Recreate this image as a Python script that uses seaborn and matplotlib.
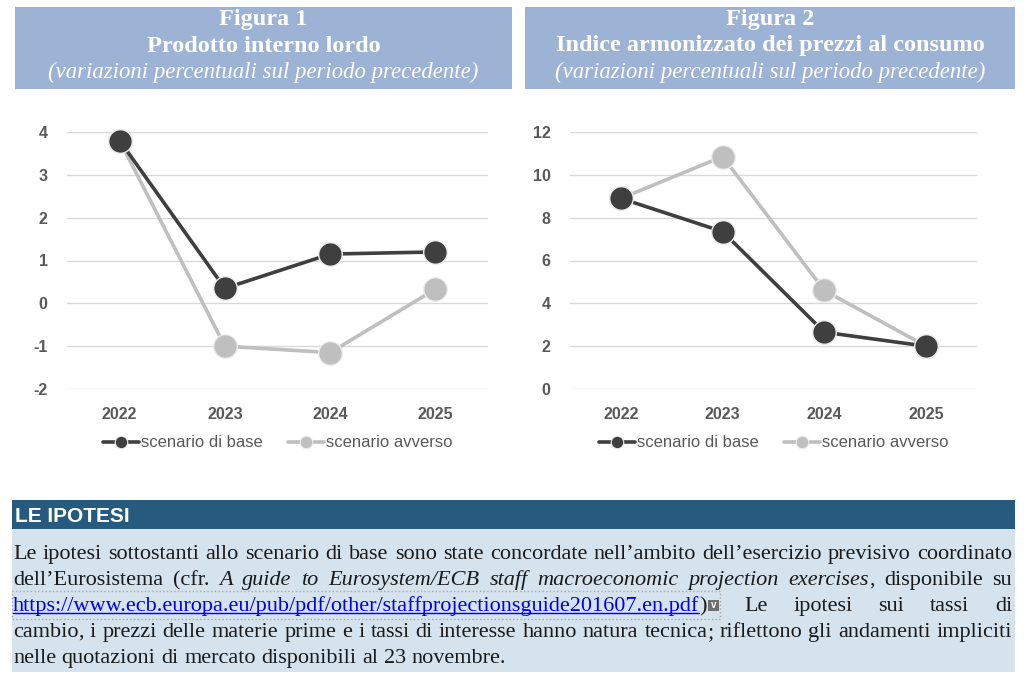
import matplotlib
matplotlib.use('Agg')
import numpy as np
import pandas as pd
import matplotlib.pyplot as plt
import seaborn as sns
from matplotlib.lines import Line2D
from matplotlib.patches import Rectangle

# dati
years = ['2022', '2023', '2024', '2025']
pil_base = [3.8, 0.35, 1.15, 1.2]
pil_avverso = [3.8, -1.0, -1.15, 0.33]
ipca_base = [8.9, 7.35, 2.65, 2.0]
ipca_avverso = [8.9, 10.85, 4.6, 2.0]

lbl_base = 'scenario di base'
lbl_avv = 'scenario avverso'

titles = [
    ('Figura 1', 'Prodotto interno lordo', '(variazioni percentuali sul periodo precedente)'),
    ('Figura 2', 'Indice armonizzato dei prezzi al consumo', '(variazioni percentuali sul periodo precedente)'),
]

box_title = 'LE IPOTESI'
box_lines = [
    [("Le ipotesi sottostanti allo scenario di base sono state concordate nell’ambito dell’esercizio previsivo coordinato", 'r')],
    [("dell’Eurosistema (cfr. ", 'r'),
     ("A guide to Eurosystem/ECB staff macroeconomic projection exercises", 'i'),
     (", disponibile su", 'r')],
    [("https://www.ecb.europa.eu/pub/pdf/other/staffprojectionsguide201607.en.pdf", 'u'),
     (")", 'p'), (" Le ipotesi sui tassi di", 'r')],
    [("cambio, i prezzi delle materie prime e i tassi di interesse hanno natura tecnica; riflettono gli andamenti impliciti", 'r')],
    [("nelle quotazioni di mercato disponibili al 23 novembre.", 'r')],
]

c_base = '#3f3f3f'
c_avv = '#bfbfbf'
c_tick = '#595959'
c_banner = '#9db3d6'

sns.set_theme(style='white')
plt.rcParams['font.family'] = ['Liberation Sans', 'DejaVu Sans']
plt.rcParams['axes.unicode_minus'] = False

W, H = 1024, 682
fig = plt.figure(figsize=(10.24, 6.82), dpi=100)


def fx(px):
    return px / W


def fy(py):
    return 1 - py / H


def rect(x0, y0, x1, y1, color, **kw):
    fig.patches.append(Rectangle((fx(x0), fy(y1)), (x1 - x0) / W, (y1 - y0) / H,
                                 transform=fig.transFigure, facecolor=color,
                                 zorder=0, **kw))


# banner dei titoli
for (x0, x1), (t1, t2, t3) in zip([(15, 512), (525, 1015)], titles):
    rect(x0, 7, x1, 89, c_banner, edgecolor='none')
    xc = fx((x0 + x1) / 2)
    fig.text(xc, fy(20), t1, ha='center', va='center', color='white',
             family='Liberation Serif', weight='bold', size=17.5)
    fig.text(xc, fy(46), t2, ha='center', va='center', color='white',
             family='Liberation Serif', weight='bold', size=17.5)
    fig.text(xc, fy(72), t3, ha='center', va='center', color='white',
             family='Liberation Serif', style='italic', size=16.4)

panels = [
    ([67, 488], pil_base, pil_avverso, (-2, 4), range(-2, 5)),
    ([570, 977], ipca_base, ipca_avverso, (0, 12), range(0, 13, 2)),
]

for (x0, x1), base, avv, ylim, yt in panels:
    ax = fig.add_axes([fx(x0), fy(389), (x1 - x0) / W, 257 / H])
    df = pd.DataFrame({'anno': years * 2,
                       'valore': avv + base,
                       'scenario': [lbl_avv] * 4 + [lbl_base] * 4})
    # lo scenario avverso sotto, quello di base sopra
    for lab, col in [(lbl_avv, c_avv), (lbl_base, c_base)]:
        sns.lineplot(data=df[df['scenario'] == lab], x='anno', y='valore', ax=ax,
                     color=col, linewidth=2.6, marker='o', markersize=17,
                     markeredgecolor='#ececec', markeredgewidth=1.0,
                     clip_on=False, legend=False)
    ax.set_xlim(-0.5, 3.5)
    ax.set_ylim(*ylim)
    ax.set_yticks(list(yt))
    ax.set_xlabel('')
    ax.set_ylabel('')
    ax.grid(axis='y', color='#d9d9d9', linewidth=1)
    ax.grid(axis='x', visible=False)
    ax.set_axisbelow(True)
    for s in ax.spines.values():
        s.set_visible(False)
    ax.tick_params(axis='y', length=0, pad=14, labelsize=11.5, labelcolor=c_tick)
    ax.tick_params(axis='x', length=0, pad=13, labelsize=11.5, labelcolor=c_tick)
    for t in ax.get_xticklabels() + ax.get_yticklabels():
        t.set_fontweight('bold')
    handles = [Line2D([0], [0], color=c_base, lw=2.6, marker='o', ms=9,
                      mec='#ececec', mew=0.8),
               Line2D([0], [0], color=c_avv, lw=2.6, marker='o', ms=9,
                      mec='#ececec', mew=0.8)]
    ax.legend(handles, [lbl_base, lbl_avv], loc='center', bbox_to_anchor=(0.5, -0.21),
              ncol=2, frameon=False, handlelength=2.2, handletextpad=0.1,
              columnspacing=1.5, fontsize=12, labelcolor=c_tick)

# riquadro "LE IPOTESI"
rect(12, 500, 1015, 529, '#265a7f', edgecolor='none')
rect(12, 529, 1015, 672, '#d5e3ee', edgecolor='none')
fig.text(fx(15), fy(516), box_title, ha='left', va='center', color='white',
         weight='bold', size=15)

fig.canvas.draw()
renderer = fig.canvas.get_renderer()
body_size = 16.0
styles = {
    'r': dict(family='Liberation Serif', color='#1a1a1a'),
    'p': dict(family='Liberation Serif', color='#1a1a1a'),
    'i': dict(family='Liberation Serif', color='#1a1a1a', style='italic'),
    'u': dict(family='Liberation Serif', color='#0000ee'),
}
icon_w = 12


def measure(txt, st):
    t = fig.text(0, 0, txt, size=body_size, **styles[st])
    w = t.get_window_extent(renderer).width
    t.remove()
    return w


def to_words(segments):
    words = [[]]
    for txt, st in segments:
        parts = txt.split(' ')
        for k, p in enumerate(parts):
            if k > 0:
                words.append([])
            if not p:
                continue
            # la punteggiatura finale a parte, per non spostare la linea di base
            if len(p) > 1 and p[-1] in ',;' and st != 'u':
                words[-1].append((p[:-1], st))
                words[-1].append((p[-1], st))
            else:
                words[-1].append((p, st))
    return [w for w in words if w]


space_w = measure('a a', 'r') - measure('aa', 'r')
baselines = [559, 585, 611, 637, 663]
xl, xr = 13, 1012
for i, (segs, yb) in enumerate(zip(box_lines, baselines)):
    words = to_words(segs)
    widths = [sum(measure(p, st) + (icon_w if st == 'p' else 0) for p, st in w)
              for w in words]
    last = i == len(box_lines) - 1
    gap = space_w if last else (xr - xl - sum(widths)) / (len(words) - 1)
    x = xl
    for w in words:
        for p, st in w:
            fig.text(fx(x), fy(yb), p, ha='left', va='baseline', size=body_size,
                     **styles[st])
            pw = measure(p, st)
            if st == 'u':
                fig.add_artist(Line2D([fx(x), fx(x + pw)], [fy(yb + 2), fy(yb + 2)],
                                      transform=fig.transFigure, color='#0000ee', lw=1))
            x += pw
            if st == 'p':
                # icona del link e cornice tratteggiata
                rect(x + 1, yb - 11, x + icon_w, yb, '#6f6f6f', edgecolor='none')
                fig.text(fx(x + 6.5), fy(yb - 6), 'v', ha='center', va='center',
                         color='white', size=7, weight='bold')
                fig.patches.append(Rectangle((fx(xl - 1), fy(yb + 8)), (x + icon_w + 2 - xl) / W,
                                             28 / H, transform=fig.transFigure,
                                             facecolor='none', edgecolor='#a8a8a8',
                                             linestyle=':', lw=1, zorder=1))
                x += icon_w
        x += gap

fig.savefig('out.png', dpi=100)
